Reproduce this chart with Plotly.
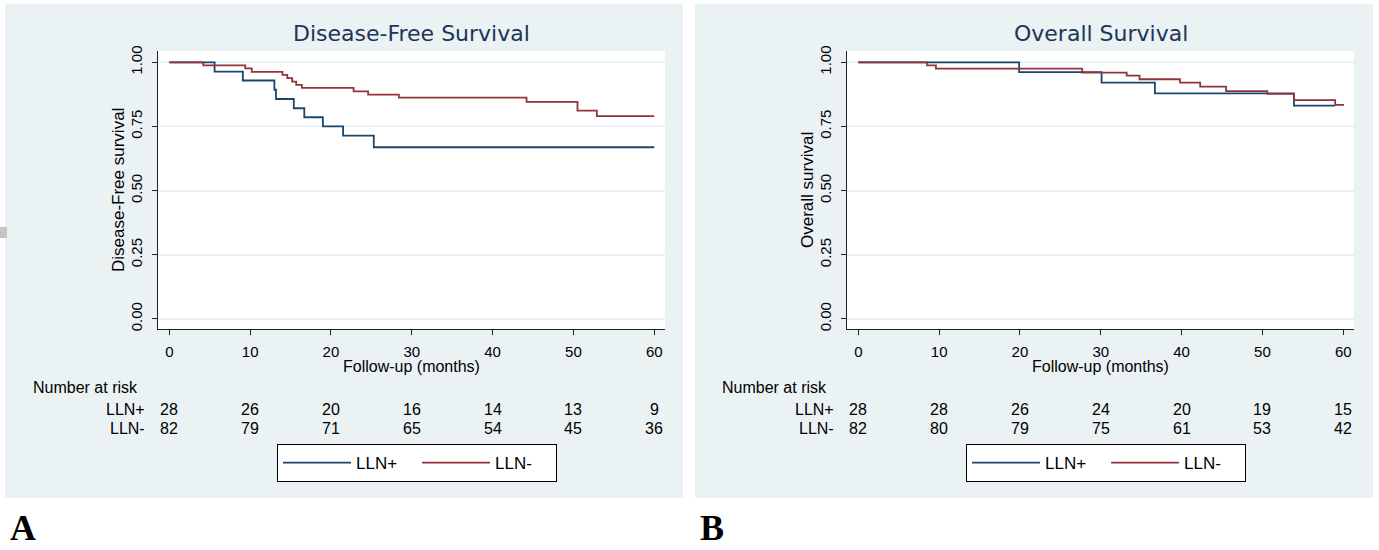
import plotly.graph_objects as go

W, H = 1379, 550

# ---------------- data ----------------
month_ticks = [0, 10, 20, 30, 40, 50, 60]
surv_ticks = [0, 0.25, 0.5, 0.75, 1.0]
surv_ticktext = ["0.00", "0.25", "0.50", "0.75", "1.00"]

groups = ["LLN+", "LLN-"]

# Disease-free survival (panel A)
dfs_pos_t = [0, 5.6, 9.1, 13.0, 13.2, 15.4, 16.7, 19.0, 21.5, 25.3, 60.0]
dfs_pos_s = [1.0, 0.964, 0.929, 0.893, 0.857, 0.821, 0.786, 0.750, 0.714, 0.669, 0.669]
dfs_neg_t = [0, 4.2, 9.4, 10.2, 14.0, 14.6, 15.2, 15.7, 16.4, 22.8, 24.6, 28.4, 44.2, 50.5, 52.9, 60.0]
dfs_neg_s = [1.0, 0.988, 0.976, 0.963, 0.951, 0.938, 0.925, 0.912, 0.900, 0.887, 0.874, 0.862,
             0.846, 0.812, 0.790, 0.790]

# Overall survival (panel B)
os_pos_t = [0, 19.9, 30.1, 36.7, 53.9, 59.0]
os_pos_s = [1.0, 0.962, 0.921, 0.879, 0.831, 0.831]
os_neg_t = [0, 8.5, 9.6, 27.7, 33.2, 34.8, 39.8, 42.3, 45.5, 50.6, 53.9, 59.0, 60.1]
os_neg_s = [1.0, 0.988, 0.975, 0.960, 0.948, 0.934, 0.921, 0.905, 0.888, 0.877, 0.853, 0.834, 0.834]

# Number at risk
dfs_risk_pos = [28, 26, 20, 16, 14, 13, 9]
dfs_risk_neg = [82, 79, 71, 65, 54, 45, 36]
os_risk_pos = [28, 28, 26, 24, 20, 19, 15]
os_risk_neg = [82, 80, 79, 75, 61, 53, 42]

titles = ["Disease-Free Survival", "Overall Survival"]
ytitles = ["Disease-Free survival", "Overall survival"]
xtitle = "Follow-up (months)"
panel_labels = ["A", "B"]

# ---------------- style ----------------
BG = "#eaf2f3"
BLUE = "#1a476f"
RED = "#90353b"
TITLE_C = "#1c3559"
FONT = "Liberation Sans, Arial, sans-serif"


def fx(px):
    return px / W


def fy(py):
    return 1 - py / H


fig = go.Figure()

panels = [
    dict(xa="x", ya="y", left=158, right=665, bg=(5, 683),
         data=[(dfs_pos_t, dfs_pos_s), (dfs_neg_t, dfs_neg_s)],
         risk=[dfs_risk_pos, dfs_risk_neg], legend="legend", lx=277),
    dict(xa="x2", ya="y2", left=847, right=1354, bg=(695, 1373),
         data=[(os_pos_t, os_pos_s), (os_neg_t, os_neg_s)],
         risk=[os_risk_pos, os_risk_neg], legend="legend2", lx=966),
]

top_px, bot_px = 51, 329
colors = [BLUE, RED]

shapes = []
annotations = []

for i, p in enumerate(panels):
    # panel background
    shapes.append(dict(type="rect", xref="paper", yref="paper",
                       x0=fx(p["bg"][0]), x1=fx(p["bg"][1]), y0=fy(498), y1=fy(4),
                       fillcolor=BG, line=dict(width=0), layer="below"))
    # white plot region
    shapes.append(dict(type="rect", xref="paper", yref="paper",
                       x0=fx(p["left"]), x1=fx(p["right"]), y0=fy(bot_px), y1=fy(top_px),
                       fillcolor="white", line=dict(width=0), layer="below"))
    for g, (t, s) in enumerate(p["data"]):
        fig.add_trace(go.Scatter(
            x=t, y=s, mode="lines", line=dict(color=colors[g], width=1.8, shape="hv"),
            name=groups[g], xaxis=p["xa"], yaxis=p["ya"], legend=p["legend"],
            showlegend=True, hoverinfo="skip"))
    # title
    annotations.append(dict(xref="paper", yref="paper", x=fx((p["left"] + p["right"]) / 2), y=fy(34),
                            text=titles[i], showarrow=False, xanchor="center", yanchor="middle",
                            font=dict(family="DejaVu Sans, Verdana, sans-serif", size=22, color=TITLE_C)))
    # y title
    annotations.append(dict(xref="paper", yref="paper", x=fx(p["left"] - 40), y=fy(190),
                            text=ytitles[i], showarrow=False, textangle=-90,
                            xanchor="center", yanchor="middle",
                            font=dict(family=FONT, size=17, color="#000")))
    # x title
    annotations.append(dict(xref="paper", yref="paper", x=fx((p["left"] + p["right"]) / 2), y=fy(366),
                            text=xtitle, showarrow=False, xanchor="center", yanchor="middle",
                            font=dict(family=FONT, size=16, color="#000")))
    # risk table
    annotations.append(dict(xref="paper", yref="paper", x=fx(p["left"] - 127), y=fy(387),
                            text="Number at risk", showarrow=False, xanchor="left", yanchor="middle",
                            font=dict(family=FONT, size=16, color="#000")))
    for g, row_y in enumerate([409, 428]):
        annotations.append(dict(xref="paper", yref="paper", x=fx(p["left"] - 11), y=fy(row_y),
                                text=groups[g], showarrow=False, xanchor="right", yanchor="middle",
                                font=dict(family=FONT, size=16, color="#000")))
        for m, n in zip(month_ticks, p["risk"][g]):
            annotations.append(dict(xref=p["xa"], yref="paper", x=m, y=fy(row_y),
                                    text=str(n), showarrow=False, xanchor="center", yanchor="middle",
                                    font=dict(family=FONT, size=16, color="#000")))
    # panel letter
    annotations.append(dict(xref="paper", yref="paper", x=fx(p["bg"][0] + 3), y=fy(528),
                            text="<b>%s</b>" % panel_labels[i], showarrow=False,
                            xanchor="left", yanchor="middle",
                            font=dict(family="Liberation Serif, Times New Roman, serif", size=36, color="#000")))

# small grey mark at the left edge
shapes.append(dict(type="rect", xref="paper", yref="paper", x0=0, x1=fx(7), y0=fy(238), y1=fy(227),
                   fillcolor="#c4c4c4", line=dict(width=0), layer="below"))

axis_common_x = dict(range=[-1.4, 61.33], tickvals=month_ticks, showgrid=False, zeroline=False,
                     showline=True, linecolor="#222", linewidth=1, ticks="outside", ticklen=5,
                     tickcolor="#222", tickfont=dict(family=FONT, size=15, color="#000"),
                     ticklabelstandoff=4, automargin=False, fixedrange=True)
axis_common_y = dict(range=[-0.039, 1.044], tickvals=surv_ticks, ticktext=surv_ticktext,
                     tickangle=-90, showgrid=True, gridcolor=BG, gridwidth=2, zeroline=False,
                     showline=True, linecolor="#222", linewidth=1, ticks="outside", ticklen=5,
                     tickcolor="#222", tickfont=dict(family=FONT, size=15, color="#000"),
                     ticklabelstandoff=4, automargin=False, fixedrange=True)

leg_common = dict(orientation="h", xanchor="left", yanchor="top", y=fy(444),
                  bgcolor="white", bordercolor="#000", borderwidth=1,
                  font=dict(family=FONT, size=17, color="#000"), itemwidth=68,
                  entrywidth=56, entrywidthmode="pixels",
                  itemclick=False, itemdoubleclick=False)

fig.update_layout(
    width=W, height=H, autosize=False,
    margin=dict(l=0, r=0, t=0, b=0),
    paper_bgcolor="white", plot_bgcolor="rgba(0,0,0,0)",
    xaxis=dict(domain=[fx(158), fx(665)], anchor="y", **axis_common_x),
    yaxis=dict(domain=[fy(bot_px), fy(top_px)], anchor="x", **axis_common_y),
    xaxis2=dict(domain=[fx(847), fx(1354)], anchor="y2", **axis_common_x),
    yaxis2=dict(domain=[fy(bot_px), fy(top_px)], anchor="x2", **axis_common_y),
    legend=dict(x=fx(277), **leg_common),
    legend2=dict(x=fx(966), **leg_common),
    shapes=shapes,
    annotations=annotations,
    showlegend=True,
)

fig.write_html(
    "out.html",
    config={"responsive": False, "displayModeBar": False},
    post_script="document.body.style.margin='0px';document.body.style.padding='0px';",
)
